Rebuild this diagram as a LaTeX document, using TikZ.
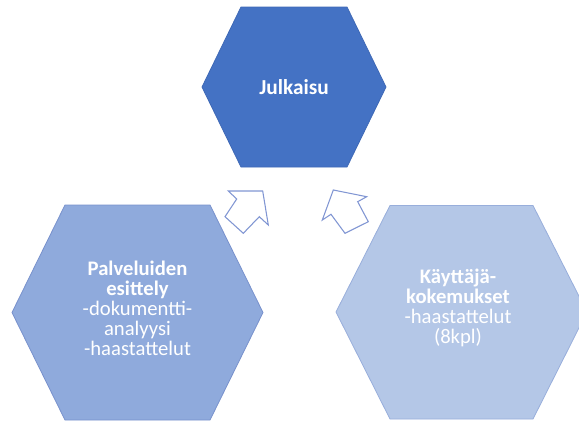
\documentclass[tikz,border=0pt]{standalone}
\usepackage{fontspec}
\setmainfont{Carlito}
\begin{document}
\begin{tikzpicture}[x=0.75pt,y=-0.75pt,
  hexbase/.style={line width=0.6pt, line join=miter},
  tophex/.style={hexbase, fill=topblue, draw=topedge},
  lefthex/.style={hexbase, fill=leftblue, draw=leftedge},
  righthex/.style={hexbase, fill=rightblue, draw=rightedge},
  blockarrow/.style={draw=arrowblue, fill=white, line width=0.8pt, line join=miter},
  hextext/.style={text=white, align=center, inner sep=0pt,
    font=\fontsize{15.5}{15}\selectfont},
  titletext/.style={text=white, align=center, inner sep=0pt,
    font=\fontsize{16}{19}\selectfont\bfseries}]
\definecolor{topblue}{HTML}{4472C4}
\definecolor{topedge}{HTML}{3F69B6}
\definecolor{leftblue}{HTML}{8FAADC}
\definecolor{leftedge}{HTML}{7891CC}
\definecolor{rightblue}{HTML}{B4C7E7}
\definecolor{rightedge}{HTML}{98AEDB}
\definecolor{arrowblue}{HTML}{8196D3}
\useasboundingbox (0,0) rectangle (579,421);
\begin{scope}
\clip (0,0) rectangle (579,421);
% publication hexagon
\draw[tophex] (241,7) -- (347,7) -- (386,87) -- (347,167) -- (241,167) -- (202,87) -- cycle;
\node[titletext] (julkaisu) at (294,87) {Julkaisu};
% service presentation hexagon
\draw[lefthex] (65,205) -- (210,205) -- (263,312.5) -- (210,420) -- (65,420) -- (12,312.5) -- cycle;
\node[hextext] (palvelut) at (137.5,308)
  {\textbf{Palveluiden}\\\textbf{esittely}\\-dokumentti-\\analyysi\\-haastattelut};
% user experience hexagon
\draw[righthex] (390,205.5) -- (533,205.5) -- (587,312) -- (533,419) -- (390,419) -- (336,312) -- cycle;
\node[hextext] (kokemukset) at (458,308)
  {\textbf{Käyttäjä-}\\\textbf{kokemukset}\\-haastattelut\\(8kpl)};
% block arrows pointing towards the publication
\draw[blockarrow] (228.3,191) -- (262.7,191) -- (268.3,225) -- (259.3,216.7)
  -- (243.3,233.3) -- (225,216.7) -- (236.7,199) -- cycle;
\draw[blockarrow] (333.3,190) -- (366.7,196.7) -- (357.7,201.7) -- (368.3,221.7)
  -- (345,233.3) -- (331,214.3) -- (322.3,220) -- cycle;
\end{scope}
\end{tikzpicture}
\end{document}
